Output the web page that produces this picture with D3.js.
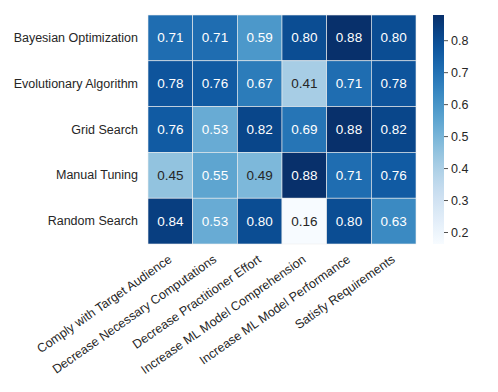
<!DOCTYPE html>
<html>
<head>
<meta charset="utf-8">
<script src="https://cdn.jsdelivr.net/npm/d3@7"></script>
<style>
  body { margin: 0; background: #fff; }
  text { font-family: "Liberation Sans", Arial, sans-serif; }
</style>
</head>
<body>
<svg id="chart" width="498" height="392"></svg>
<script>
const methods = ["Bayesian Optimization", "Evolutionary Algorithm", "Grid Search", "Manual Tuning", "Random Search"];
const goals = ["Comply with Target Audience", "Decrease Necessary Computations", "Decrease Practitioner Effort",
  "Increase ML Model Comprehension", "Increase ML Model Performance", "Satisfy Requirements"];
const values = [
  [0.71, 0.71, 0.59, 0.80, 0.88, 0.80],
  [0.78, 0.76, 0.67, 0.41, 0.71, 0.78],
  [0.76, 0.53, 0.82, 0.69, 0.88, 0.82],
  [0.45, 0.55, 0.49, 0.88, 0.71, 0.76],
  [0.84, 0.53, 0.80, 0.16, 0.80, 0.63]
];
const cbTicks = [0.2, 0.3, 0.4, 0.5, 0.6, 0.7, 0.8];

const margin = { top: 15, left: 148 };
const width = 268, height = 229;

const svg = d3.select("#chart");
const g = svg.append("g").attr("transform", `translate(${margin.left},${margin.top})`);

const x = d3.scaleBand().domain(goals).range([0, width]);
const y = d3.scaleBand().domain(methods).range([0, height]);

const vmin = 0.1625, vmax = 0.8788;
const color = d3.scaleSequential(d3.interpolateBlues).domain([vmin, vmax]);

const cells = [];
values.forEach((row, i) => row.forEach((v, j) => cells.push({ m: methods[i], goal: goals[j], v })));

g.selectAll(".cell")
  .data(cells)
  .enter()
  .append("rect")
  .attr("x", d => x(d.goal))
  .attr("y", d => y(d.m))
  .attr("width", x.bandwidth())
  .attr("height", y.bandwidth())
  .style("fill", d => color(d.v))
  .style("stroke", "#eeeeee")
  .style("stroke-width", 0.6);

// annotation colour based on luminance, like seaborn
function textColor(v) {
  const c = d3.rgb(color(v));
  const lum = [c.r, c.g, c.b].map(t => {
    t /= 255;
    return t <= 0.03928 ? t / 12.92 : Math.pow((t + 0.055) / 1.055, 2.4);
  });
  const l = 0.2126 * lum[0] + 0.7152 * lum[1] + 0.0722 * lum[2];
  return l > 0.408 ? "#262626" : "#ffffff";
}

g.selectAll(".annot")
  .data(cells)
  .enter()
  .append("text")
  .attr("x", d => x(d.goal) + x.bandwidth() / 2)
  .attr("y", d => y(d.m) + y.bandwidth() / 2)
  .attr("text-anchor", "middle")
  .attr("dominant-baseline", "central")
  .style("font-size", "13.5px")
  .style("fill", d => textColor(d.v))
  .text(d => d3.format(".2f")(d.v));

// row labels
g.selectAll(".ylab")
  .data(methods)
  .enter()
  .append("text")
  .attr("x", -10)
  .attr("y", d => y(d) + y.bandwidth() / 2)
  .attr("text-anchor", "end")
  .attr("dominant-baseline", "central")
  .style("font-size", "12.5px")
  .style("fill", "#262626")
  .text(d => d);

// column labels, rotated
g.selectAll(".xlab")
  .data(goals)
  .enter()
  .append("text")
  .attr("transform", d => `translate(${x(d) + x.bandwidth() / 2},${height + 14}) rotate(-35)`)
  .attr("text-anchor", "end")
  .attr("dominant-baseline", "central")
  .style("font-size", "12.5px")
  .style("fill", "#262626")
  .text(d => d);

// colorbar
const cbX = 433, cbW = 11;
const cbScale = d3.scaleLinear().domain([vmin, vmax]).range([margin.top + height, margin.top]);
const defs = svg.append("defs");
const grad = defs.append("linearGradient")
  .attr("id", "cbgrad")
  .attr("x1", 0).attr("y1", 1).attr("x2", 0).attr("y2", 0);
d3.range(0, 1.0001, 0.05).forEach(t => {
  grad.append("stop")
    .attr("offset", t)
    .attr("stop-color", color(vmin + t * (vmax - vmin)));
});
svg.append("rect")
  .attr("x", cbX)
  .attr("y", margin.top)
  .attr("width", cbW)
  .attr("height", height)
  .style("fill", "url(#cbgrad)");

const cbAxis = svg.append("g")
  .attr("transform", `translate(${cbX + cbW},0)`)
  .call(d3.axisRight(cbScale).tickValues(cbTicks).tickSize(4).tickPadding(3).tickFormat(d3.format(".1f")));
cbAxis.select(".domain").remove();
cbAxis.selectAll("line").style("stroke", "#262626").style("stroke-width", 0.8);
cbAxis.selectAll("text")
  .style("font-family", "'Liberation Sans', Arial, sans-serif")
  .style("font-size", "12.5px")
  .style("fill", "#262626");
</script>
</body>
</html>
